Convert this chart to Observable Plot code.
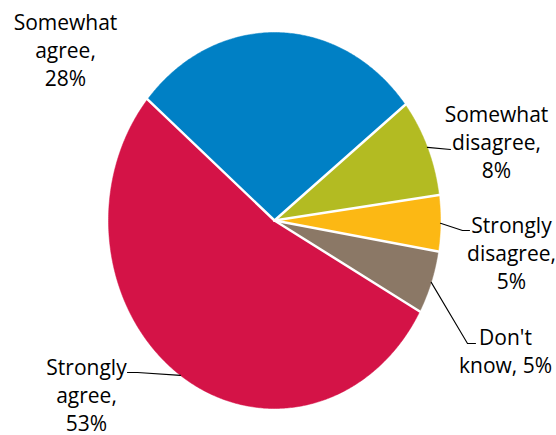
<!DOCTYPE html>
<html><head><meta charset="utf-8">
<script src="https://cdn.jsdelivr.net/npm/d3@7"></script>
<script src="https://cdn.jsdelivr.net/npm/@observablehq/plot@0.6"></script>
<style>html,body{margin:0;padding:0;overflow:hidden;background:#fff}</style>
</head><body><div id="chart"></div>
<script>
// ---- data ----
const categories = ["Somewhat agree", "Somewhat disagree", "Strongly disagree", "Don't know", "Strongly agree"];
const shares = [28.3, 8.4, 4.8, 5.4, 53.1];
const labels = ["Somewhat\nagree,\n28%", "Somewhat\ndisagree,\n8%", "Strongly\ndisagree,\n5%", "Don't\nknow, 5%", "Strongly\nagree,\n53%"];
const colors = ["#0080c5", "#b3bb22", "#fcb814", "#8b7866", "#d41347"];

// ---- layout ----
const CX = 274, CY = 220, RX = 166, RY = 188;
const START = -49.9 * Math.PI / 180;
const labelPos = [[65, 85], [496, 177], [511, 288], [505, 372], [86, 430]];
const leaderBends = [[], [[450, 149]], [[462, 230], [469, 230]], [[467, 343], [475, 343]], [[137, 372], [127, 372]]];

const ux = px => (px - CX) / RX, uy = py => (CY - py) / RY;
const arcs = d3.pie().sort(null).value(d => d).startAngle(START).endAngle(START + 2 * Math.PI)(shares);

function poly(a) {
  const pts = [{x: 0, y: 0}];
  const n = Math.max(2, Math.ceil((a.endAngle - a.startAngle) / 0.01));
  for (let k = 0; k <= n; k++) {
    const t = a.startAngle + (a.endAngle - a.startAngle) * k / n;
    pts.push({x: Math.sin(t), y: Math.cos(t)});
  }
  pts.push({x: 0, y: 0});
  return pts;
}

const marks = [];
arcs.forEach((a, i) => {
  marks.push(Plot.line(poly(a), {x: "x", y: "y", fill: colors[i], stroke: colors[i], strokeWidth: 0.5}));
});
arcs.forEach(a => {
  marks.push(Plot.line([{x: 0, y: 0}, {x: Math.sin(a.startAngle), y: Math.cos(a.startAngle)}],
    {x: "x", y: "y", stroke: "white", strokeWidth: 2.5}));
});
arcs.forEach((a, i) => {
  if (!leaderBends[i].length) return;
  const m = (a.startAngle + a.endAngle) / 2;
  const pts = [{x: Math.sin(m), y: Math.cos(m)}, ...leaderBends[i].map(([px, py]) => ({x: ux(px), y: uy(py)}))];
  marks.push(Plot.line(pts, {x: "x", y: "y", stroke: "black", strokeWidth: 1.1}));
});
const labelData = categories.map((c, i) => ({name: c, text: labels[i], x: ux(labelPos[i][0]), y: uy(labelPos[i][1])}));
marks.push(Plot.text(labelData, {
  x: "x", y: "y", text: "text", lineAnchor: "bottom", textAnchor: "middle",
  fontSize: 21, fontFamily: "Open Sans", lineHeight: 1.32, fill: "#000"
}));

const chart = Plot.plot({
  width: 556, height: 435, margin: 0,
  x: {domain: [-1, 1], range: [CX - RX, CX + RX], axis: null},
  y: {domain: [-1, 1], range: [CY + RY, CY - RY], axis: null},
  marks
});
document.getElementById("chart").append(chart);
</script>
</body></html>
